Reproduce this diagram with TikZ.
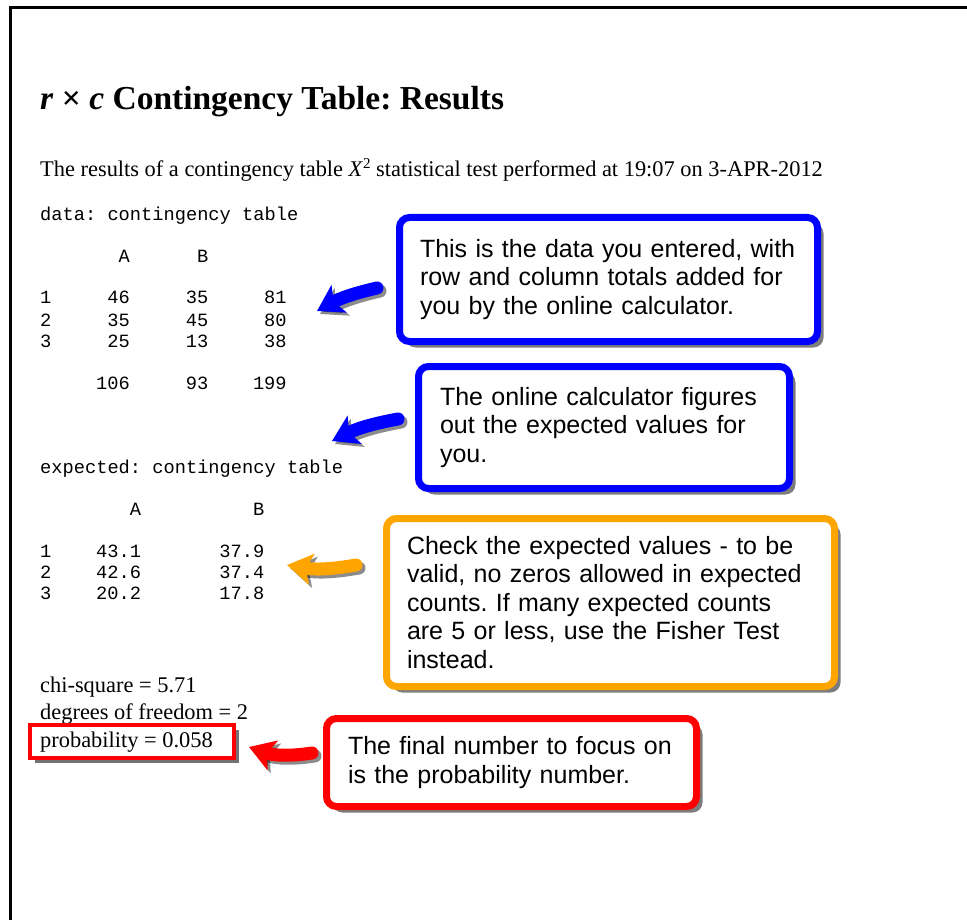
\documentclass[tikz,border=0pt]{standalone}
\usepackage{fontspec}
\setmainfont{Liberation Serif}
\setmonofont{Liberation Mono}
\newfontfamily\arialf{Liberation Sans}
\usetikzlibrary{arrows.meta,shadows}
\definecolor{cblue}{RGB}{0,0,255}
\definecolor{corange}{RGB}{255,165,0}
\definecolor{cred}{RGB}{255,0,0}
\frenchspacing
\tikzset{
  serif/.style={font=\fontsize{22.4}{25}\selectfont, inner sep=0pt, anchor=base west},
  mono/.style={font=\ttfamily\fontsize{18.7}{21}\selectfont, inner sep=0pt, anchor=base west},
  callout/.style={draw=#1, line width=7pt, rounded corners=10pt, fill=white, align=left,
    inner sep=0pt, font=\arialf\fontsize{25}{28.5}\selectfont,
    drop shadow={shadow xshift=6pt, shadow yshift=-6pt, opacity=0.6, fill=black!85},
    anchor=north west},
  fatarrow/.style={draw=#1, line width=13pt, line cap=round,
    -{Stealth[length=25pt,width=31pt,inset=6pt]}},
  fatshadow/.style={draw=black, opacity=0.45, line width=13pt, line cap=round,
    -{Stealth[length=25pt,width=31pt,inset=6pt]}, transform canvas={shift={(3pt,-3pt)}}},
}
\newcommand\mcell[4]{\node[mono] (#1) at ({40+#2*11.2},#3) {#4};}
\begin{document}
\begin{tikzpicture}[x=1pt,y=-1pt]
\useasboundingbox (0,0) rectangle (967,920);
% frame
\draw[line width=3pt] (10,920) -- (10,8) -- (967,8);
% title
\node[serif, font=\bfseries\fontsize{33.5}{38}\selectfont] (title) at (40,110)
  {\textit{r} × \textit{c} Contingency Table: Results};
\node[serif] (sub) at (40,177)
  {The results of a contingency table \textit{X}\raisebox{0.85ex}{\fontsize{15}{15}\selectfont 2} statistical test performed at 19:07 on 3-APR-2012};
% data table
\mcell{dt}{0}{221}{data: contingency table}
\mcell{dA}{7}{263}{A}
\mcell{dB}{14}{263}{B}
\mcell{d11}{0}{304}{1}\mcell{d12}{6}{304}{46}\mcell{d13}{13}{304}{35}\mcell{d14}{20}{304}{81}
\mcell{d21}{0}{326}{2}\mcell{d22}{6}{326}{35}\mcell{d23}{13}{326}{45}\mcell{d24}{20}{326}{80}
\mcell{d31}{0}{347}{3}\mcell{d32}{6}{347}{25}\mcell{d33}{13}{347}{13}\mcell{d34}{20}{347}{38}
\mcell{dt1}{5}{389}{106}\mcell{dt2}{13}{389}{93}\mcell{dt3}{19}{389}{199}
% expected table
\mcell{et}{0}{473}{expected: contingency table}
\mcell{eA}{8}{515}{A}
\mcell{eB}{19}{515}{B}
\mcell{e11}{0}{557}{1}\mcell{e12}{5}{557}{43.1}\mcell{e13}{16}{557}{37.9}
\mcell{e21}{0}{578}{2}\mcell{e22}{5}{578}{42.6}\mcell{e23}{16}{578}{37.4}
\mcell{e31}{0}{599}{3}\mcell{e32}{5}{599}{20.2}\mcell{e33}{16}{599}{17.8}
% results
\node[serif] (chi) at (40,692) {chi-square = 5.71};
\node[serif] (dof) at (40,719) {degrees of freedom = 2};
\node[draw=cred, fill=white, line width=4pt, minimum width=204pt, minimum height=33pt, anchor=north west,
  inner sep=0pt, drop shadow={shadow xshift=4.5pt, shadow yshift=-4.5pt, opacity=0.55, fill=black}]
  (pbox) at (28,723) {};
\node[serif] (prob) at (40,747) {probability = 0.058};
% callouts
\node[callout=cblue, minimum width=418pt, minimum height=124pt, text width=377pt] (c1) at (396,214)
  {This is the data you entered, with\\row and column totals added for\\you by the online calculator.};
\node[callout=cblue, minimum width=371pt, minimum height=122pt, text width=328pt] (c2) at (415,363)
  {The online calculator figures\\out the expected values for\\you.};
\node[callout=corange, minimum width=448pt, minimum height=168pt, text width=407pt] (c3) at (383,515)
  {Check the expected values - to be\\valid, no zeros allowed in expected\\counts. If many expected counts\\are 5 or less, use the Fisher Test\\instead.};
\node[callout=cred, minimum width=370pt, minimum height=88pt, text width=327pt] (c4) at (323,715)
  {The final number to focus on\\is the probability number.};
% arrows
\coordinate (a1t) at (377,288); \coordinate (a1h) at (317,311);
\coordinate (a2t) at (398,419); \coordinate (a2h) at (332,441);
\coordinate (a3t) at (356,565); \coordinate (a3h) at (287,565);
\coordinate (a4t) at (312,753); \coordinate (a4h) at (249,747);
\draw[fatshadow] (a1t) to[bend right=8] (a1h);
\draw[fatarrow=cblue] (a1t) to[bend right=8] (a1h);
\draw[fatshadow] (a2t) to[bend right=8] (a2h);
\draw[fatarrow=cblue] (a2t) to[bend right=8] (a2h);
\draw[fatshadow] (a3t) to[bend left=10] (a3h);
\draw[fatarrow=corange] (a3t) to[bend left=10] (a3h);
\draw[fatshadow] (a4t) to[bend left=14] (a4h);
\draw[fatarrow=cred] (a4t) to[bend left=14] (a4h);
\end{tikzpicture}
\end{document}
